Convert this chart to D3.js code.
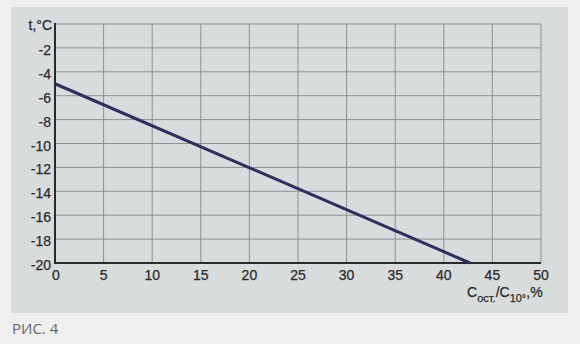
<!DOCTYPE html>
<head>
<meta charset="utf-8">
<script src="https://cdn.jsdelivr.net/npm/d3@7"></script>
<style>
  html, body { margin: 0; padding: 0; background: #eeefee; }
  svg { display: block; }
  text { font-family: "Liberation Sans", Arial, sans-serif; fill: #2a2a2a; }
</style>
</head>
<body>
<div id="chart"></div>
<script>
    const width = 580, height = 344;

    // данные графика
    const xTicks = [0, 5, 10, 15, 20, 25, 30, 35, 40, 45, 50];
    const yTicks = [-2, -4, -6, -8, -10, -12, -14, -16, -18, -20];
    const lineX = [0, 42.7];   // Сост./С10°, %
    const lineT = [-5, -20];   // t, °C

    const plot = { left: 55, right: 541, top: 24, bottom: 263 };

    const x = d3.scaleLinear().domain([0, 50]).range([plot.left, plot.right]);
    const y = d3.scaleLinear().domain([0, -20]).range([plot.top, plot.bottom]);

    const svg = d3.select('#chart').append('svg')
        .attr('width', width)
        .attr('height', height);

    // серая подложка
    svg.append('rect')
        .attr('x', 11).attr('y', 7)
        .attr('width', 557).attr('height', 306)
        .attr('fill', '#d8dcdc');

    // сетка
    const grid = svg.append('g');
    grid.selectAll('.vx')
        .data(xTicks.slice(1))
        .enter().append('line')
        .attr('x1', d => x(d)).attr('x2', d => x(d))
        .attr('y1', y(0)).attr('y2', y(-20))
        .attr('stroke', '#8e9090').attr('stroke-width', 1);
    grid.selectAll('.hy')
        .data([0].concat(yTicks.slice(0, -1)))
        .enter().append('line')
        .attr('x1', x(0)).attr('x2', x(50))
        .attr('y1', d => y(d)).attr('y2', d => y(d))
        .attr('stroke', '#8e9090').attr('stroke-width', 1);

    // оси
    svg.append('line')
        .attr('x1', x(0)).attr('x2', x(0))
        .attr('y1', y(0) - 1).attr('y2', y(-20) + 1)
        .attr('stroke', '#2a2a2a').attr('stroke-width', 2);
    svg.append('line')
        .attr('x1', x(0) - 1).attr('x2', x(50))
        .attr('y1', y(-20)).attr('y2', y(-20))
        .attr('stroke', '#2a2a2a').attr('stroke-width', 2);

    // подписи оси Y
    svg.append('g').selectAll('text')
        .data(yTicks)
        .enter().append('text')
        .attr('x', x(0) - 4)
        .attr('y', d => y(d) + 7)
        .attr('text-anchor', 'end')
        .style('font-size', '14px')
        .style('stroke', '#2a2a2a').style('stroke-width', 0.25)
        .text(d => d);

    svg.append('text')
        .attr('x', x(0) - 3)
        .attr('y', y(0) + 6)
        .attr('text-anchor', 'end')
        .style('font-size', '14px')
        .style('stroke', '#2a2a2a').style('stroke-width', 0.25)
        .text('t,°C');

    // подписи оси X
    svg.append('g').selectAll('text')
        .data(xTicks)
        .enter().append('text')
        .attr('x', d => x(d) + (d === 0 ? 1 : 0))
        .attr('y', y(-20) + 17)
        .attr('text-anchor', 'middle')
        .style('font-size', '14px')
        .style('stroke', '#2a2a2a').style('stroke-width', 0.25)
        .text(d => d);

    const xt = svg.append('text')
        .attr('x', 467)
        .attr('y', 297)
        .style('font-size', '14px')
        .style('stroke', '#2a2a2a').style('stroke-width', 0.25);
    xt.append('tspan').text('C');
    xt.append('tspan').attr('dy', 5).style('font-size', '11px').text('ост.');
    xt.append('tspan').attr('dy', -5).text('/C');
    xt.append('tspan').attr('dy', 5).style('font-size', '11px').text('10°');
    xt.append('tspan').attr('dy', -5).text(',%');

    // линия
    const line = d3.line()
        .x((d, i) => x(lineX[i]))
        .y(d => y(d));

    svg.append('path')
        .datum(lineT)
        .attr('d', line)
        .attr('fill', 'none')
        .attr('stroke', '#2b305e')
        .attr('stroke-width', 3);

    // подпись рисунка
    svg.append('text')
        .attr('x', 12)
        .attr('y', 334)
        .style('font-family', '"Open Sans", sans-serif')
        .style('font-size', '15px')
        .style('fill', '#666')
        .text('РИС. 4');
</script>
</body>
